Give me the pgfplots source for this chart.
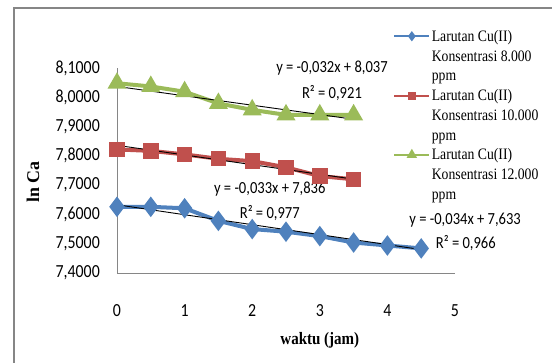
\documentclass[border=0pt]{standalone}
\usepackage{fontspec}
\setmainfont{Liberation Serif}[FakeStretch=0.86]
\newfontfamily\titlefont{Liberation Serif}
\newfontfamily\calfont{Carlito}[FakeStretch=0.86]
\usepackage{pgfplots}
\pgfplotsset{compat=1.18}
\definecolor{xblue}{HTML}{4F81BD}
\definecolor{xred}{HTML}{C0504D}
\definecolor{xgreen}{HTML}{9BBB59}
\definecolor{axgray}{HTML}{868686}
\begin{document}
\begin{tikzpicture}
\useasboundingbox (0,0) rectangle (552bp,-363bp);
\draw[axgray, line width=1.2bp] (14bp,-380bp) -- (14bp,-8bp) -- (570bp,-8bp);
\begin{axis}[
  at={(117bp,-273bp)}, anchor=south west,
  scale only axis, width=338bp, height=205bp,
  xmin=0, xmax=5, ymin=7.4, ymax=8.1,
  clip=false,
  axis x line*=bottom, axis y line*=left,
  axis line style={axgray, line width=0.8bp, -},
  major tick length=0pt,
  xtick={0,1,2,3,4,5},
  xticklabels={0,1,2,3,4,5},
  ytick={7.4,7.5,7.6,7.7,7.8,7.9,8.0,8.1},
  yticklabels={{7,4000},{7,5000},{7,6000},{7,7000},{7,8000},{7,9000},{8,0000},{8,1000}},
  xticklabel style={font=\calfont\fontsize{18.5}{20}\selectfont, inner sep=0pt, anchor=north, yshift=-31bp},
  yticklabel style={font=\calfont\fontsize{18.5}{20}\selectfont, inner sep=0pt, anchor=east, xshift=-17bp},
  xlabel={waktu (jam)},
  xlabel style={font=\bfseries\fontsize{17.5}{20}\selectfont, at={(axis description cs:0.6,0)}, anchor=center, yshift=-67bp},
  ylabel={ln Ca},
  ylabel style={font=\titlefont\bfseries\fontsize{18}{20}\selectfont, at={(axis description cs:-0.2485,0.444)}, anchor=center},
  legend image code/.code={\draw[mark repeat=2,mark phase=2] plot coordinates {(0bp,0bp)(17.5bp,0bp)(35bp,0bp)};},
  legend cell align=left,
  legend style={draw=none, fill=none, inner sep=0pt, row sep=0pt, column sep=1.5bp,
    font=\fontsize{16}{19}\selectfont,
    at={(axis description cs:0.817,1.204)}, anchor=north west,
    nodes={inner sep=0pt, text height=15bp, text depth=4.75bp}},
]
\addplot[xblue, line width=4bp, mark=diamond*, mark size=7bp, mark options={solid, fill=xblue, draw=xblue}, forget plot]
  coordinates {(0,7.626)(0.5,7.626)(1,7.621)(1.5,7.578)(2,7.550)(2.5,7.541)(3,7.526)(3.5,7.504)(4,7.494)(4.5,7.484)};
\addplot[xred, line width=4bp, mark=square*, mark size=5.7bp, mark options={solid, fill=xred, draw=xred}, forget plot]
  coordinates {(0,7.822)(0.5,7.817)(1,7.805)(1.5,7.790)(2,7.782)(2.5,7.761)(3,7.731)(3.5,7.720)};
\addplot[xgreen, line width=4bp, mark=triangle*, mark size=7bp, mark options={solid, fill=xgreen, draw=xgreen}, forget plot]
  coordinates {(0,8.048)(0.5,8.037)(1,8.019)(1.5,7.979)(2,7.957)(2.5,7.940)(3,7.940)(3.5,7.940)};
% trend lines
\addplot[black, line width=0.9bp, forget plot] coordinates {(0,7.633)(4.5,7.480)};
\addplot[black, line width=0.9bp, forget plot] coordinates {(0,7.836)(3.5,7.7205)};
\addplot[black, line width=0.9bp, forget plot] coordinates {(0,8.037)(3.5,7.925)};
% legend
\addlegendimage{xblue, line width=2bp, mark=diamond*, mark size=3.5bp, mark options={solid, fill=xblue}}
\addlegendentry{Larutan Cu(II)}
\addlegendimage{empty legend}\addlegendentry{Konsentrasi 8.000}
\addlegendimage{empty legend}\addlegendentry{ppm}
\addlegendimage{xred, line width=2bp, mark=square*, mark size=3bp, mark options={solid, fill=xred}}
\addlegendentry{Larutan Cu(II)}
\addlegendimage{empty legend}\addlegendentry{Konsentrasi 10.000}
\addlegendimage{empty legend}\addlegendentry{ppm}
\addlegendimage{xgreen, line width=2bp, mark=triangle*, mark size=4bp, mark options={solid, fill=xgreen}}
\addlegendentry{Larutan Cu(II)}
\addlegendimage{empty legend}\addlegendentry{Konsentrasi 12.000}
\addlegendimage{empty legend}\addlegendentry{ppm}
% trend equations
\node[font=\calfont\fontsize{17}{20}\selectfont] at (axis cs:3.18,8.100) {y = -0,032x + 8,037};
\node[font=\calfont\fontsize{17}{20}\selectfont] at (axis cs:3.18,8.015) {R² = 0,921};
\node[font=\calfont\fontsize{17}{20}\selectfont] at (axis cs:2.26,7.687) {y = -0,033x + 7,836};
\node[font=\calfont\fontsize{17}{20}\selectfont] at (axis cs:2.26,7.605) {R² = 0,977};
\node[font=\calfont\fontsize{17}{20}\selectfont] at (axis cs:5.15,7.581) {y = -0,034x + 7,633};
\node[font=\calfont\fontsize{17}{20}\selectfont] at (axis cs:5.16,7.503) {R² = 0,966};
\end{axis}
\end{tikzpicture}
\end{document}
